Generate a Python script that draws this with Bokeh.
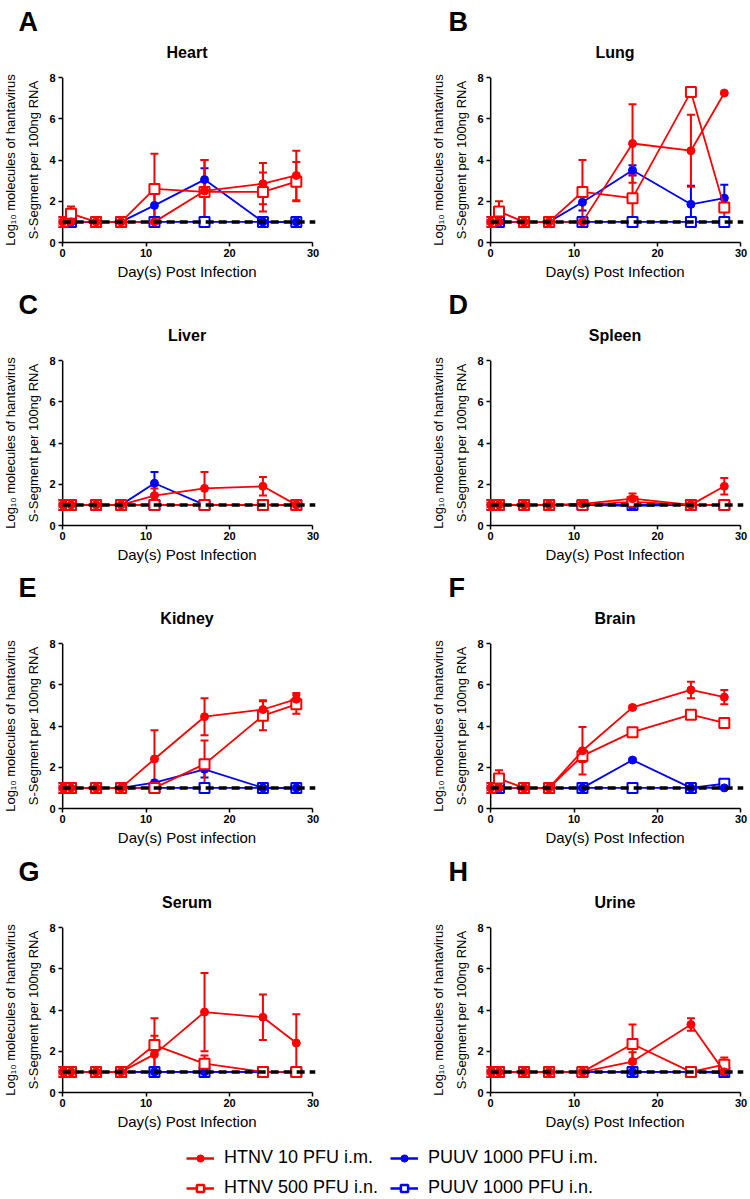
from bokeh.plotting import figure
from bokeh.models import (Range1d, FixedTicker, Span, Whisker, TeeHead, ColumnDataSource,
                          Title, Legend, LegendItem)
from bokeh.layouts import column, row
from bokeh.embed import file_html
from bokeh.resources import INLINE

# ---------------- data ----------------
DAYS = [0, 1, 4, 7, 11, 17, 24, 28]
X_TICKS = [0, 10, 20, 30]
Y_TICKS = [0, 2, 4, 6, 8]
LOD = 1.0

LETTERS = ["A", "B", "C", "D", "E", "F", "G", "H"]
ORGANS = ["Heart", "Lung", "Liver", "Spleen", "Kidney", "Brain", "Serum", "Urine"]
X_LABELS = ["Day(s) Post Infection", "Day(s) Post Infection", "Day(s) Post Infection",
            "Day(s) Post Infection", "Day(s) Post infection", "Day(s) Post Infection",
            "Day(s) Post Infection", "Day(s) Post Infection"]
Y_LABEL_LINES = ["Log\u2081\u2080 molecules of hantavirus", "S-Segment per 100ng RNA"]

SERIES_NAMES = ["HTNV 10 PFU i.m.", "HTNV 500 PFU i.n.", "PUUV 1000 PFU i.m.", "PUUV 1000 PFU i.n."]

# Heart
HEART_H10 = [1, 1, 1, 1, 1.0, 2.5, 2.85, 3.25]
HEART_H10_SD = [0, 0, 0, 0, 0, 1.5, 1.0, 1.2]
HEART_H500 = [1, 1.4, 1, 1, 2.6, 2.45, 2.45, 2.95]
HEART_H500_SD = [0, 0.35, 0, 0, 1.7, 1.55, 0.95, 0.95]
HEART_PIM = [1, 1, 1, 1, 1.8, 3.05, 1, 1]
HEART_PIM_SD = [0, 0, 0, 0, 0.7, 0.55, 0, 0]
HEART_PIN = [1, 1, 1, 1, 1, 1, 1, 1]
HEART_PIN_SD = [0, 0, 0, 0, 0, 0, 0, 0]
# Lung
LUNG_H10 = [1, 1, 1, 1, 1.0, 4.8, 4.45, 7.25]
LUNG_H10_SD = [0, 0, 0, 0, 0, 1.9, 1.75, 0]
LUNG_H500 = [1, 1.5, 1, 1, 2.45, 2.15, 7.3, 1.7]
LUNG_H500_SD = [0, 0.5, 0, 0, 1.55, 1.15, 0, 0.5]
LUNG_PIM = [1, 1, 1, 1, 1.95, 3.5, 1.85, 2.15]
LUNG_PIM_SD = [0, 0, 0, 0, 0.4, 0.25, 0.9, 0.65]
LUNG_PIN = [1, 1, 1, 1, 1, 1, 1, 1]
LUNG_PIN_SD = [0, 0, 0, 0, 0, 0, 0, 0]
# Liver
LIVER_H10 = [1, 1, 1, 1, 1.45, 1.8, 1.9, 1.0]
LIVER_H10_SD = [0, 0, 0, 0, 0.35, 0.8, 0.45, 0]
LIVER_H500 = [1, 1, 1, 1, 1, 1, 1, 1]
LIVER_H500_SD = [0, 0, 0, 0, 0, 0, 0, 0]
LIVER_PIM = [1, 1, 1, 1, 2.05, 1, 1, 1]
LIVER_PIM_SD = [0, 0, 0, 0, 0.55, 0, 0, 0]
LIVER_PIN = [1, 1, 1, 1, 1, 1, 1, 1]
LIVER_PIN_SD = [0, 0, 0, 0, 0, 0, 0, 0]
# Spleen
SPLEEN_H10 = [1, 1, 1, 1, 1.05, 1.3, 1.0, 1.9]
SPLEEN_H10_SD = [0, 0, 0, 0, 0, 0.25, 0, 0.4]
SPLEEN_H500 = [1, 1, 1, 1, 1.0, 1.15, 1.0, 1.0]
SPLEEN_H500_SD = [0, 0, 0, 0, 0, 0.1, 0, 0]
SPLEEN_PIM = [1, 1, 1, 1, 1, 0.95, 1, 1]
SPLEEN_PIM_SD = [0, 0, 0, 0, 0, 0, 0, 0]
SPLEEN_PIN = [1, 1, 1, 1, 1, 1, 1, 1]
SPLEEN_PIN_SD = [0, 0, 0, 0, 0, 0, 0, 0]
# Kidney
KIDNEY_H10 = [1, 1, 1, 1, 2.4, 4.45, 4.8, 5.3]
KIDNEY_H10_SD = [0, 0, 0, 0, 1.4, 0.9, 0.45, 0.3]
KIDNEY_H500 = [1, 1, 1, 1, 1.0, 2.15, 4.5, 5.05]
KIDNEY_H500_SD = [0, 0, 0, 0, 0, 1.15, 0.7, 0.45]
KIDNEY_PIM = [1, 1, 1, 1, 1.25, 1.9, 1, 1]
KIDNEY_PIM_SD = [0, 0, 0, 0, 0, 0.4, 0, 0]
KIDNEY_PIN = [1, 1, 1, 1, 1, 1, 1, 1]
KIDNEY_PIN_SD = [0, 0, 0, 0, 0, 0, 0, 0]
# Brain
BRAIN_H10 = [1, 1, 1, 1, 2.8, 4.9, 5.75, 5.4]
BRAIN_H10_SD = [0, 0, 0, 0, 1.15, 0.08, 0.4, 0.35]
BRAIN_H500 = [1, 1.45, 1, 1, 2.55, 3.7, 4.55, 4.15]
BRAIN_H500_SD = [0, 0.4, 0, 0, 0.3, 0.1, 0.1, 0.2]
BRAIN_PIM = [1, 1, 1, 1, 1, 2.35, 1, 1]
BRAIN_PIM_SD = [0, 0, 0, 0, 0, 0.08, 0, 0]
BRAIN_PIN = [1, 1, 1, 1, 1, 1, 1, 1.2]
BRAIN_PIN_SD = [0, 0, 0, 0, 0, 0, 0, 0.15]
# Serum
SERUM_H10 = [1, 1, 1, 1, 1.85, 3.9, 3.65, 2.4]
SERUM_H10_SD = [0, 0, 0, 0, 0.9, 1.9, 1.1, 1.4]
SERUM_H500 = [1, 1, 1, 1, 2.3, 1.4, 1.0, 1.0]
SERUM_H500_SD = [0, 0, 0, 0, 1.3, 0.4, 0, 0]
SERUM_PIM = [1, 1, 1, 1, 1, 1, 1, 1]
SERUM_PIM_SD = [0, 0, 0, 0, 0, 0, 0, 0]
SERUM_PIN = [1, 1, 1, 1, 1, 1, 1, 1]
SERUM_PIN_SD = [0, 0, 0, 0, 0, 0, 0, 0]
# Urine
URINE_H10 = [1, 1, 1, 1, 1.0, 1.5, 3.3, 1.0]
URINE_H10_SD = [0, 0, 0, 0, 0, 0.45, 0.3, 0]
URINE_H500 = [1, 1, 1, 1, 1.0, 2.35, 1.0, 1.35]
URINE_H500_SD = [0, 0, 0, 0, 0, 0.95, 0, 0.35]
URINE_PIM = [1, 1, 1, 1, 1, 1, 1, 0.95]
URINE_PIM_SD = [0, 0, 0, 0, 0, 0, 0, 0]
URINE_PIN = [1, 1, 1, 1, 1, 1, 1, 1]
URINE_PIN_SD = [0, 0, 0, 0, 0, 0, 0, 0]

PANEL_DATA = [
    [(HEART_H10, HEART_H10_SD), (HEART_H500, HEART_H500_SD), (HEART_PIM, HEART_PIM_SD), (HEART_PIN, HEART_PIN_SD)],
    [(LUNG_H10, LUNG_H10_SD), (LUNG_H500, LUNG_H500_SD), (LUNG_PIM, LUNG_PIM_SD), (LUNG_PIN, LUNG_PIN_SD)],
    [(LIVER_H10, LIVER_H10_SD), (LIVER_H500, LIVER_H500_SD), (LIVER_PIM, LIVER_PIM_SD), (LIVER_PIN, LIVER_PIN_SD)],
    [(SPLEEN_H10, SPLEEN_H10_SD), (SPLEEN_H500, SPLEEN_H500_SD), (SPLEEN_PIM, SPLEEN_PIM_SD), (SPLEEN_PIN, SPLEEN_PIN_SD)],
    [(KIDNEY_H10, KIDNEY_H10_SD), (KIDNEY_H500, KIDNEY_H500_SD), (KIDNEY_PIM, KIDNEY_PIM_SD), (KIDNEY_PIN, KIDNEY_PIN_SD)],
    [(BRAIN_H10, BRAIN_H10_SD), (BRAIN_H500, BRAIN_H500_SD), (BRAIN_PIM, BRAIN_PIM_SD), (BRAIN_PIN, BRAIN_PIN_SD)],
    [(SERUM_H10, SERUM_H10_SD), (SERUM_H500, SERUM_H500_SD), (SERUM_PIM, SERUM_PIM_SD), (SERUM_PIN, SERUM_PIN_SD)],
    [(URINE_H10, URINE_H10_SD), (URINE_H500, URINE_H500_SD), (URINE_PIM, URINE_PIM_SD), (URINE_PIN, URINE_PIN_SD)],
]

# ---------------- styles / layout ----------------
RED = "#FF0000"
BLUE = "#0000FF"
STYLES = [  # color, marker, hollow
    (RED, "circle", False),
    (RED, "square", True),
    (BLUE, "circle", False),
    (BLUE, "square", True),
]
DRAW_ORDER = [3, 2, 1, 0]
FONT = "Liberation Sans"

FRAME_W = 257
FRAME_H = 165
BORDER_BOTTOM = 44
ROW_TOPS = [77, 74, 74, 75]          # top border of each row of panels
LEFT_COL = dict(width=375, border_left=58, border_right=60, letter_offset=-40)
RIGHT_COL = dict(width=374, border_left=111, border_right=6, letter_offset=-38)
X_START, X_END = -0.5, 30.3
TOTAL_H = 1198


def make_panel(i):
    col = LEFT_COL if i % 2 == 0 else RIGHT_COL
    top = ROW_TOPS[i // 2]
    p = figure(width=col["width"], height=top + FRAME_H + BORDER_BOTTOM,
               output_backend="svg", toolbar_location=None,
               x_range=Range1d(X_START, X_END), y_range=Range1d(Y_TICKS[0], Y_TICKS[-1]),
               min_border_left=col["border_left"], min_border_right=col["border_right"],
               min_border_top=top, min_border_bottom=BORDER_BOTTOM, title=None)
    p.outline_line_color = None
    p.xgrid.visible = False
    p.ygrid.visible = False
    p.background_fill_color = "white"

    # organ title (nearest the frame) then panel letter above it
    p.add_layout(Title(text=ORGANS[i], align="center", text_font=FONT, text_font_size="16px",
                       text_font_style="bold", text_color="black", standoff=33), "above")
    p.add_layout(Title(text=LETTERS[i], align="left", text_font=FONT, text_font_size="27px",
                       text_font_style="bold", text_color="black", offset=col["letter_offset"],
                       standoff=-23), "above")

    # x axis
    xa = p.xaxis[0]
    xa.ticker = FixedTicker(ticks=X_TICKS)
    xa.bounds = (X_TICKS[0], X_TICKS[-1])
    xa.axis_label = X_LABELS[i]
    # y axis (line drawn at x = 0 by a Span)
    ya = p.yaxis[0]
    ya.ticker = FixedTicker(ticks=Y_TICKS)
    ya.axis_line_color = None
    ya.major_tick_in = 4
    ya.major_tick_out = 0
    for ax in (xa, ya):
        ax.minor_tick_line_color = None
        ax.major_tick_line_width = 1.5
        ax.major_tick_line_color = "black"
        ax.axis_line_width = 1.5
        ax.major_label_text_font = FONT
        ax.major_label_text_font_size = "11px"
        ax.major_label_text_font_style = "bold"
        ax.major_label_text_color = "black"
        ax.axis_label_text_font = FONT
        ax.axis_label_text_font_style = "normal"
        ax.axis_label_text_color = "black"
    xa.axis_line_color = "black"
    xa.major_tick_out = 4
    xa.major_tick_in = 0
    xa.major_label_standoff = 2
    xa.axis_label_standoff = 3
    xa.axis_label_text_font_size = "15px"
    ya.major_label_standoff = 3

    # two-line y label as two side titles (inner line first)
    p.add_layout(Title(text=Y_LABEL_LINES[1], align="center", text_font=FONT, text_font_size="13px",
                       text_font_style="normal", text_color="black", standoff=12), "left")
    p.add_layout(Title(text=Y_LABEL_LINES[0], align="center", text_font=FONT, text_font_size="13px",
                       text_font_style="normal", text_color="black", standoff=0), "left")

    p.add_layout(Span(location=X_TICKS[0], dimension="height", line_color="black",
                      line_width=1.5, level="underlay"))

    for k in DRAW_ORDER:
        vals, sds = PANEL_DATA[i][k]
        color, marker, hollow = STYLES[k]
        src = ColumnDataSource(dict(x=DAYS, y=vals))
        p.line("x", "y", source=src, line_color=color, line_width=1.8)
        if hollow:
            p.scatter("x", "y", source=src, marker=marker, size=10, fill_color="white",
                      line_color=color, line_width=2)
        else:
            p.scatter("x", "y", source=src, marker=marker, size=8, fill_color=color,
                      line_color=color)

    for k in DRAW_ORDER:
        vals, sds = PANEL_DATA[i][k]
        color = STYLES[k][0]
        xs = [d for d, s in zip(DAYS, sds) if s > 0]
        lo = [v - s for v, s in zip(vals, sds) if s > 0]
        hi = [v + s for v, s in zip(vals, sds) if s > 0]
        if not xs:
            continue
        wsrc = ColumnDataSource(dict(base=xs, lower=lo, upper=hi))
        p.add_layout(Whisker(source=wsrc, base="base", lower="lower", upper="upper",
                             line_color=color, line_width=2,
                             upper_head=TeeHead(size=8, line_color=color, line_width=2),
                             lower_head=TeeHead(size=8, line_color=color, line_width=2)))

    lod_src = ColumnDataSource(dict(x=[X_TICKS[0], X_END], y=[LOD, LOD]))
    p.line("x", "y", source=lod_src, line_color="black", line_width=3.5, line_dash="8 5")
    return p


panels = [make_panel(i) for i in range(8)]
panels_h = sum(ROW_TOPS) + 4 * (FRAME_H + BORDER_BOTTOM)

# ---------------- legend ----------------
lg = figure(width=749, height=TOTAL_H - panels_h, output_backend="svg", toolbar_location=None,
            x_range=Range1d(0, 1), y_range=Range1d(0, 1), min_border=0,
            x_axis_location=None, y_axis_location=None)
lg.outline_line_color = None
lg.xgrid.visible = False
lg.ygrid.visible = False
items = []
for k, name in enumerate(SERIES_NAMES):
    color, marker, hollow = STYLES[k]
    nan_src = ColumnDataSource(dict(x=[float("nan")], y=[float("nan")]))
    lr = lg.line("x", "y", source=nan_src, line_color=color, line_width=2.5)
    if hollow:
        sr = lg.scatter("x", "y", source=nan_src, marker=marker, size=11, fill_color="white",
                        line_color=color, line_width=2.5)
    else:
        sr = lg.scatter("x", "y", source=nan_src, marker=marker, size=11, fill_color=color,
                        line_color=color)
    items.append(LegendItem(label=name, renderers=[lr, sr]))

LEG_COL_X = [186, 390]
for c in range(2):
    leg = Legend(items=items[2 * c:2 * c + 2], orientation="vertical", location=(LEG_COL_X[c], 0),
                 label_text_font=FONT, label_text_font_size="18px", label_text_color="black",
                 glyph_width=28, glyph_height=18, label_standoff=10, spacing=9, padding=0,
                 margin=0, border_line_color=None, background_fill_alpha=0)
    lg.add_layout(leg, "center")

layout = column(row(panels[0], panels[1]), row(panels[2], panels[3]),
                row(panels[4], panels[5]), row(panels[6], panels[7]), lg)

open("out.html", "w").write(file_html(layout, INLINE))
